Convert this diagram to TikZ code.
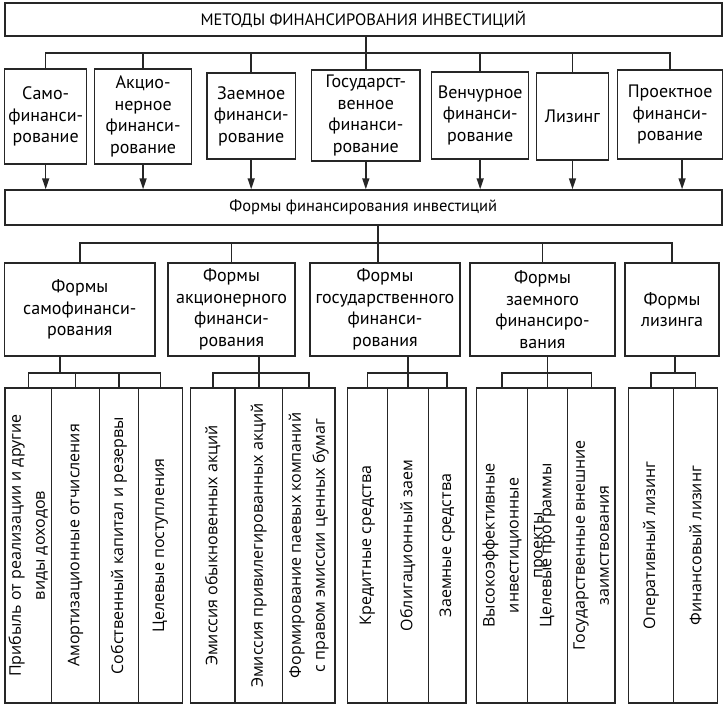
\documentclass[tikz,border=0pt]{standalone}
\usepackage{fontspec}
\setmainfont{PT Sans}
\newfontfamily\leaffont{Open Sans}
\usetikzlibrary{arrows.meta}
\tikzset{
  >={Triangle[length=11pt,width=7pt]},
  every node/.style={text=black},
  line/.style={line width=1.5pt,draw=black!85},
  arrow/.style={->,line width=1.5pt,draw=black!85},
  bigbox/.style={draw=black!85,line width=1.5pt,minimum width=717pt,inner sep=0pt,font=\fontsize{16.5}{20}\selectfont},
  methbox/.style={draw=black!85,line width=1.5pt,align=center,inner sep=0pt,font=\fontsize{18}{21.5}\selectfont},
  formbox/.style={methbox,minimum height=93pt},
  leaf/.style={draw=black!85,line width=1.5pt,rotate=90,align=center,inner sep=0pt,minimum width=315pt,font=\leaffont\fontsize{16}{24}\selectfont},
  leaftext/.style={rotate=90,align=center,inner sep=0pt,font=\leaffont\fontsize{16}{24}\selectfont},
}

\begin{document}
\begin{tikzpicture}[x=1pt,y=-1pt]
  \useasboundingbox (0,0) rectangle (724,705);

  \node[bigbox,minimum height=33pt] (methods) at (363.3,19.7) {МЕТОДЫ ФИНАНСИРОВАНИЯ ИНВЕСТИЦИЙ};

  \node[methbox,minimum width=82pt,minimum height=95pt] (samo) at (45.7,116.5) {Само-\\финанси-\\рование};
  \node[methbox,minimum width=97pt,minimum height=95pt] (akc) at (143.1,116.5) {Акцио-\\нерное\\финанси-\\рование};
  \node[methbox,minimum width=88.7pt,minimum height=86.3pt] (zaem) at (251.2,115.9) {Заемное\\финанси-\\рование};
  \node[methbox,minimum width=108.4pt,minimum height=91pt] (gos) at (365.8,115.5) {Государст-\\венное\\финанси-\\рование};
  \node[methbox,minimum width=97pt,minimum height=87.3pt] (venc) at (480.2,115.4) {Венчурное\\финанси-\\рование};
  \node[methbox,minimum width=72pt,minimum height=87pt] (liz) at (572.5,116.5) {Лизинг};
  \node[methbox,minimum width=104.8pt,minimum height=89pt] (proj) at (670.1,114.5) {Проектное\\финанси-\\рование};

  \coordinate (bar1) at (0,53);
  \draw[line] (methods.south -| gos.north) -- (gos.north);
  \draw[line] (samo.north) |- (bar1 -| proj.north) -- (proj.north);
  \foreach \n in {akc,zaem,venc,liz} \draw[line] (\n.north) -- (\n.north |- bar1);

  \node[bigbox,minimum height=35pt] (forms) at (363.3,207.5) {Формы финансирования инвестиций};
  \foreach \n in {samo,akc,zaem,gos,venc,liz} \draw[arrow] (\n.south) -- (\n.south |- forms.north);
  \coordinate (projout) at ([xshift=12pt]proj.south);
  \draw[arrow] (projout) -- (projout |- forms.north);

  \node[formbox,minimum width=150.4pt] (fsam) at (79.8,309.5) {Формы\\самофинанси-\\рования};
  \node[formbox,minimum width=127pt] (fakc) at (231.5,309.5) {Формы\\акционерного\\финанси-\\рования};
  \node[formbox,minimum width=150pt] (fgos) at (385,309.5) {Формы\\государственного\\финанси-\\рования};
  \node[formbox,minimum width=145pt] (fzaem) at (542.5,309.5) {Формы\\заемного\\финансиро-\\вания};
  \node[formbox,minimum width=94pt] (fliz) at (672,309.5) {Формы\\лизинга};

  \coordinate (bar2) at (0,243);
  \coordinate (fgostop) at ([xshift=-7pt]fgos.north);
  \draw[line] (fgostop |- forms.south) -- (fgostop);
  \draw[line] (fsam.north) |- (bar2 -| fliz.north) -- (fliz.north);
  \foreach \n in {fakc,fzaem} \draw[line] (\n.north) -- (\n.north |- bar2);

  % leaves
  \node[leaf,minimum height=46.7pt] (l11) at (28.3,545.5) {Прибыль от реализации и другие\\виды доходов};
  \node[leaf,minimum height=47.6pt] (l12) at (75.5,545.5) {Амортизационные отчисления};
  \node[leaf,minimum height=39pt] (l13) at (118.8,545.5) {Собственный капитал и резервы};
  \node[leaf,minimum height=44pt] (l14) at (160.3,545.5) {Целевые поступления};

  \node[leaf,minimum height=44.3pt] (l21) at (212.8,545.5) {Эмиссия обыкновенных акций};
  \node[leaf,minimum height=47.7pt] (l22) at (258.8,545.5) {Эмиссия привилегированных акций};
  \node[leaf,minimum height=52.3pt] (l23) at (308.8,545.5) {Формирование паевых компаний\\с правом эмиссии ценных бумаг};

  \node[leaf,minimum height=40pt] (l31) at (367.3,545.5) {Кредитные средства};
  \node[leaf,minimum height=41pt] (l32) at (407.8,545.5) {Облигационный заем};
  \node[leaf,minimum height=37.7pt] (l33) at (447.2,545.5) {Заемные средства};

  \node[leaf,minimum height=51pt] (l41) at (502.2,545.5) {};
  \node[leaftext] (l41t) at (514.5,545.5) {Высокоэффективные\\инвестиционные\\проекты};
  \node[leaf,minimum height=40pt] (l42) at (547.7,545.5) {Целевые программы};
  \node[leaf,minimum height=47.3pt] (l43) at (591.3,545.5) {Государственные внешние\\заимствования};

  \node[leaf,minimum height=44.6pt] (l51) at (651,545.5) {Оперативный лизинг};
  \node[leaf,minimum height=44.4pt] (l52) at (695.5,545.5) {Финансовый лизинг};

  \coordinate (j1) at (60,373);
  \coordinate (j2) at (258.8,373);
  \coordinate (j3) at (407.8,373);
  \coordinate (j4) at (547.7,373);
  \coordinate (j5) at (675,373);
  \draw[line] (j1 |- fsam.south) -- (j1);
  \draw[line] (j2 |- fakc.south) -- (j2);
  \draw[line] (j3 |- fgos.south) -- (j3);
  \draw[line] (j4 |- fzaem.south) -- (j4);
  \draw[line] (j5 |- fliz.south) -- (j5);
  \draw[line] (l11.east) |- (j1) -| (l14.east);
  \draw[line] (l21.east) |- (j2) -| (l23.east);
  \draw[line] (l31.east) |- (j3) -| (l33.east);
  \draw[line] (l41.east) |- (j4) -| (l43.east);
  \draw[line] (l51.east) |- (j5) -| (l52.east);
  \foreach \n/\j in {l12/j1,l13/j1,l22/j2,l32/j3,l42/j4} \draw[line] (\n.east) -- (\n.east |- \j);
\end{tikzpicture}
\end{document}
